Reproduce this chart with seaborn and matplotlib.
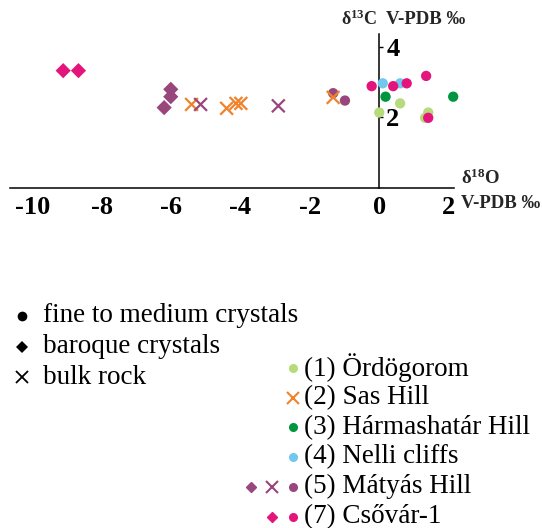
import numpy as np
import pandas as pd
import seaborn as sns
import matplotlib
matplotlib.use("Agg")
import matplotlib.pyplot as plt

# ---------------- data ----------------
sites = ["(1) Ördögorom", "(2) Sas Hill", "(3) Hármashatár Hill",
         "(4) Nelli cliffs", "(5) Mátyás Hill", "(7) Csővár-1"]
site_colors = ["#b5db7b", "#f0822a", "#00963f", "#72c7ee", "#98467c", "#e3157d"]

# fine to medium crystals (circles)
fine_site = ["(1) Ördögorom"] * 4 + ["(3) Hármashatár Hill"] * 2 + ["(4) Nelli cliffs"] * 2 \
    + ["(5) Mátyás Hill"] * 2 + ["(7) Csővár-1"] * 5
fine_d18O = [0.00, 0.60, 1.32, 1.41, 0.18, 2.13, 0.10, 0.60, -1.33, -0.99,
             -0.22, 0.40, 0.79, 1.35, 1.41]
fine_d13C = [2.13, 2.39, 1.98, 2.13, 2.58, 2.58, 2.96, 2.96, 2.68, 2.47,
             2.88, 2.88, 2.96, 3.17, 1.98]

# baroque crystals (diamonds)
baroque_site = ["(5) Mátyás Hill"] * 3 + ["(7) Csővár-1"] * 2
baroque_d18O = [-6.01, -6.01, -6.20, -9.11, -8.67]
baroque_d13C = [2.79, 2.58, 2.27, 3.32, 3.32]

# bulk rock (x)
bulk_site = ["(2) Sas Hill"] * 5 + ["(5) Mátyás Hill"] * 2
bulk_d18O = [-5.41, -4.40, -4.13, -3.99, -1.33, -5.15, -2.91]
bulk_d13C = [2.36, 2.25, 2.39, 2.39, 2.56, 2.36, 2.32]

x_ticks = [-10, -8, -6, -4, -2, 0, 2]
y_ticks = [2, 4]

type_labels = ["fine to medium crystals", "baroque crystals", "bulk rock"]

# ---------------- style ----------------
sns.set_style("white")
plt.rcParams["font.family"] = ["Liberation Serif", "DejaVu Sans"]
plt.rcParams["axes.unicode_minus"] = False
plt.rcParams["mathtext.fontset"] = "custom"
plt.rcParams["mathtext.rm"] = "Liberation Serif"
plt.rcParams["mathtext.bf"] = "Liberation Serif:bold"
plt.rcParams["mathtext.it"] = "Liberation Serif:italic"

palette = dict(zip(sites, site_colors))

fine_df = pd.DataFrame({"site": fine_site, "d18O": fine_d18O, "d13C": fine_d13C})
baroque_df = pd.DataFrame({"site": baroque_site, "d18O": baroque_d18O, "d13C": baroque_d13C})
bulk_df = pd.DataFrame({"site": bulk_site, "d18O": bulk_d18O, "d13C": bulk_d13C})

W, H = 542, 528
fig = plt.figure(figsize=(W / 100, H / 100), dpi=100)
fig.patch.set_facecolor("white")

x0, x1 = -10.64, 2.15
y0, y1 = 0.0, 4.37
ax = fig.add_axes([10.1 / W, 1 - 187.5 / H, 443.8 / W, 153.8 / H])
ax.set_facecolor("none")

sns.scatterplot(data=fine_df, x="d18O", y="d13C", hue="site", palette=palette,
                marker="o", s=55, linewidth=0, legend=False, ax=ax, zorder=3, clip_on=False)
sns.scatterplot(data=baroque_df, x="d18O", y="d13C", hue="site", palette=palette,
                marker="D", s=60, linewidth=0, legend=False, ax=ax, zorder=3, clip_on=False)
sns.scatterplot(data=bulk_df, x="d18O", y="d13C", hue="site", palette=palette,
                marker="x", s=85, linewidth=1.6, legend=False, ax=ax, zorder=4, clip_on=False)

ax.set_xlim(x0, x1)
ax.set_ylim(y0, y1)
ax.set_xlabel("")
ax.set_ylabel("")

for s in ["top", "left"]:
    ax.spines[s].set_visible(False)
ax.spines["right"].set_position(("data", 0))
for s in ["right", "bottom"]:
    ax.spines[s].set_color("black")
    ax.spines[s].set_linewidth(1.1)

ax.yaxis.tick_right()
ax.set_xticks(x_ticks)
ax.set_yticks(y_ticks)
ax.set_xticklabels([str(t) for t in x_ticks])
ax.set_yticklabels([str(t) for t in y_ticks])
ax.tick_params(axis="x", direction="out", length=3, width=1.0, pad=3, labelsize=19, colors="black")
ax.tick_params(axis="y", direction="out", length=3, width=1.0, pad=2, labelsize=19, colors="black")
for lab in ax.get_xticklabels() + ax.get_yticklabels():
    lab.set_fontweight("bold")
    lab.set_family("Liberation Serif")

# axis titles
fig.text(341 / W, 1 - 19 / H, r"$\mathbf{δ^{13}C}$", fontsize=13, ha="left", va="center")
fig.text(386 / W, 1 - 19 / H, "V-PDB ‰", fontsize=13.5, fontweight="bold", ha="left", va="center")
fig.text(461 / W, 1 - 178 / H, r"$\mathbf{δ^{18}O}$", fontsize=13.5, ha="left", va="center")
fig.text(461 / W, 1 - 204 / H, "V-PDB ‰", fontsize=13.5, fontweight="bold", ha="left", va="center")

# ---------------- legends (overlay in pixel coordinates) ----------------
lax = fig.add_axes([0, 0, 1, 1])
lax.set_xlim(0, W)
lax.set_ylim(H, 0)
lax.axis("off")
lax.patch.set_visible(False)

type_markers = [("o", 7.0, 0), ("D", 6.5, 0), ("x", 8.0, 1.3)]
for i, (lab, (mk, ms, lw)) in enumerate(zip(type_labels, type_markers)):
    yy = 316 + i * 30.5
    lax.plot([22], [yy], marker=mk, markersize=ms, color="black", markeredgewidth=lw,
             linestyle="none")
    lax.text(43, yy, lab, fontsize=19.5, ha="left", va="center", color="black")

site_legend_markers = [["o"], ["x"], ["o"], ["o"], ["D", "x", "o"], ["D", "o"]]
for i, (site, col, mks) in enumerate(zip(sites, site_colors, site_legend_markers)):
    yy = 368 + i * 29.7
    n = len(mks)
    for j, mk in enumerate(mks):
        xx = 293 - (n - 1 - j) * 21
        if mk == "o":
            lax.plot([xx], [yy], marker="o", markersize=5.5, color=col, linestyle="none")
        elif mk == "D":
            lax.plot([xx], [yy], marker="D", markersize=5.5, color=col, linestyle="none")
        else:
            lax.plot([xx], [yy], marker="x", markersize=8.0, color=col, markeredgewidth=1.5,
                     linestyle="none")
    lax.text(304, yy, site, fontsize=19.5, ha="left", va="center", color="black")

fig.savefig("out.png", dpi=100, facecolor="white")
